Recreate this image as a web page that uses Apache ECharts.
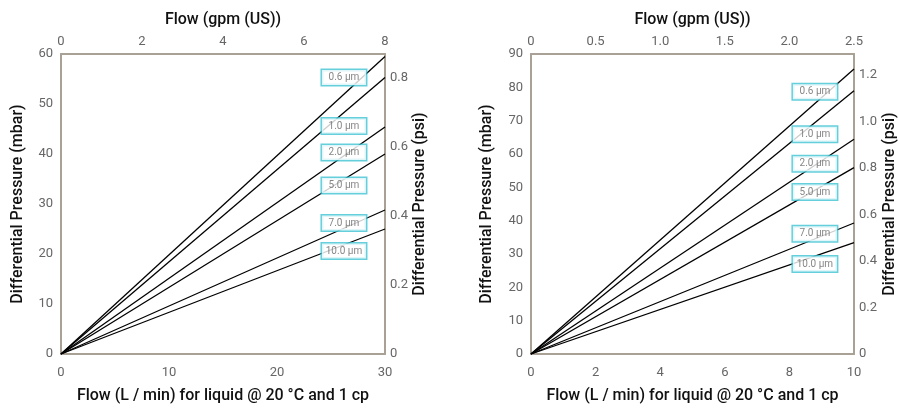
<!DOCTYPE html>
<html>
<head>
<meta charset="utf-8">
<script src="https://cdn.jsdelivr.net/npm/echarts@6/dist/echarts.min.js"></script>
<style>
html,body{margin:0;padding:0;background:#fff;}
#c{width:899px;height:409px;}
</style>
</head>
<body>
<div id="c"></div>
<script>
// ---- data ----
const grades = ['0.6 µm', '1.0 µm', '2.0 µm', '5.0 µm', '7.0 µm', '10.0 µm'];
// left chart: flow 0..30 L/min, dp (mbar) at end of each line (starts at 0)
const leftFlow = [0, 30];
const leftDpEnd = [59.5, 55.3, 45.4, 40.0, 28.8, 25.0];
// right chart: flow 0..10 L/min
const rightFlow = [0, 10];
const rightDpEnd = [85.5, 79.0, 64.4, 55.9, 39.3, 33.4];
// label anchors in data units
const leftLabelX = 26.2;
const leftLabelY = [55.3, 45.6, 40.3, 33.7, 26.2, 20.6];
const rightLabelX = 8.79;
const rightLabelY = [78.7, 65.9, 57.1, 48.6, 36.1, 27.0];
// axis ticks
const leftBottomTicks = [0, 10, 20, 30];
const leftTopTicks = [0, 2, 4, 6, 8];
const leftMbarTicks = [0, 10, 20, 30, 40, 50, 60];
const leftPsiTicks = [0, 0.2, 0.4, 0.6, 0.8];
const rightBottomTicks = [0, 2, 4, 6, 8, 10];
const rightTopTicks = [0, 0.5, 1.0, 1.5, 2.0, 2.5];
const rightMbarTicks = [0, 10, 20, 30, 40, 50, 60, 70, 80, 90];
const rightPsiTicks = [0, 0.2, 0.4, 0.6, 0.8, 1.0, 1.2];

// ---- styles ----
const FONT = 'Roboto';
const axisColor = '#aaa196';
const tickColor = '#666';
const nameColor = '#111';
const cyan = '#3ec3d3';

function fmt(ticks, dec) {
  return function (v) {
    for (const t of ticks) {
      if (Math.abs(v - t) < 1e-6) return t === 0 ? '0' : (dec ? t.toFixed(dec) : String(t));
    }
    return '';
  };
}
function base(pos, gridIndex, min, max, interval, ticks, dec, name, nameGap, margin) {
  return {
    type: 'value', position: pos, gridIndex: gridIndex,
    min: min, max: max, interval: interval,
    name: name, nameLocation: 'middle', nameGap: nameGap,
    nameTextStyle: { fontFamily: FONT, fontSize: 16, fontWeight: 500, color: nameColor },
    axisLine: { show: true, onZero: false, lineStyle: { color: axisColor, width: 2 } },
    axisTick: { show: false },
    splitLine: { show: false },
    axisLabel: { show: true, margin: margin, fontFamily: FONT, fontSize: 13, color: tickColor,
      formatter: fmt(ticks, dec), showMaxLabel: true, showMinLabel: true },
  };
}

const xAxes = [
  base('bottom', 0, 0, 30, 10, leftBottomTicks, 0, 'Flow (L / min) for liquid @ 20 °C and 1 cp', 34, 12),
  base('top', 0, 0, 8, 2, leftTopTicks, 0, 'Flow (gpm (US))', 26, 6),
  base('bottom', 1, 0, 10, 2, rightBottomTicks, 0, 'Flow (L / min) for liquid @ 20 °C and 1 cp', 34, 12),
  base('top', 1, 0, 2.5, 0.5, rightTopTicks, 1, 'Flow (gpm (US))', 26, 6),
];
const yAxes = [
  base('left', 0, 0, 60, 10, leftMbarTicks, 0, 'Differential Pressure (mbar)', 35, 8),
  base('right', 0, 0, 0.87, 0.2, leftPsiTicks, 1, 'Differential Pressure (psi)', 27, 5),
  base('left', 1, 0, 90, 10, rightMbarTicks, 0, 'Differential Pressure (mbar)', 36, 8),
  base('right', 1, 0, 1.29, 0.2, rightPsiTicks, 1, 'Differential Pressure (psi)', 28, 5),
];

const series = [];
function addChart(flow, ends, lx, ly, xi, yi) {
  grades.forEach((g, i) => {
    series.push({
      type: 'line', xAxisIndex: xi, yAxisIndex: yi, name: g,
      data: [[flow[0], 0], [flow[1], ends[i]]],
      symbol: 'none', silent: true, z: 2,
      lineStyle: { color: '#000', width: 1.3 },
    });
  });
  series.push({
    type: 'scatter', xAxisIndex: xi, yAxisIndex: yi, z: 5, silent: true,
    symbolSize: 0,
    data: grades.map((g, i) => ({ value: [lx, ly[i]], name: g })),
    label: {
      show: true, position: 'inside', formatter: p => p.name,
      fontFamily: FONT, fontSize: 10, color: '#666', lineHeight: 11,
      backgroundColor: '#fff', borderColor: cyan, borderWidth: 1.5,
      padding: [2, 5], width: 34, align: 'center',
    },
  });
}
addChart(leftFlow, leftDpEnd, leftLabelX, leftLabelY, 0, 0);
addChart(rightFlow, rightDpEnd, rightLabelX, rightLabelY, 2, 2);

const chart = echarts.init(document.getElementById('c'), null, { renderer: 'canvas' });
chart.setOption({
  animation: false,
  backgroundColor: '#fff',
  grid: [
    { left: 61, top: 54, width: 324, height: 302 },
    { left: 531, top: 54, width: 323, height: 302 },
  ],
  xAxis: xAxes,
  yAxis: yAxes,
  series: series,
});
</script>
</body>
</html>
